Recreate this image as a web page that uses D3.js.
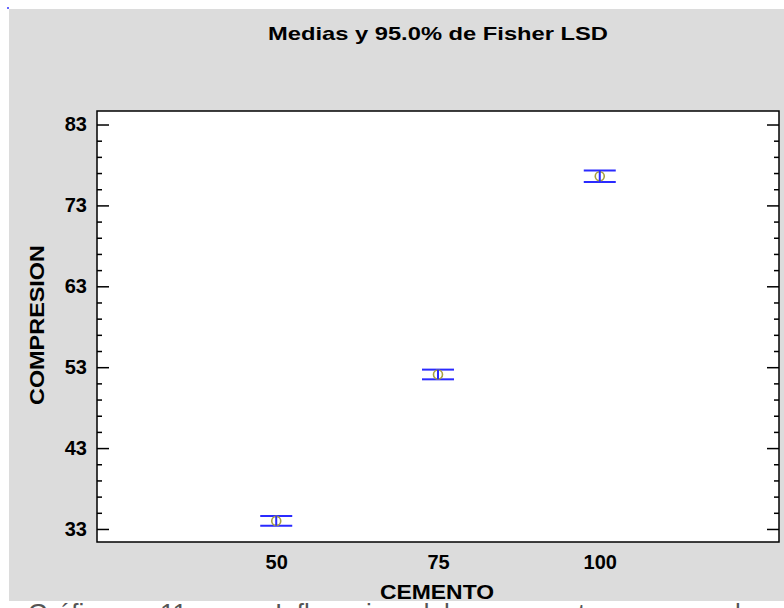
<!DOCTYPE html>
<html>
<head>
<meta charset="utf-8">
<script src="https://cdn.jsdelivr.net/npm/d3@7"></script>
<style>
  html, body { margin: 0; padding: 0; background: #ffffff; }
  svg { display: block; }
  text { font-family: "Liberation Sans", Arial, sans-serif; }
</style>
</head>
<body>
<svg id="chart" width="784" height="608"></svg>
<script>
// Means and 95% Fisher LSD intervals of COMPRESION by CEMENTO level
const cemento = [50, 75, 100];
const medias = [34.0, 52.1, 76.6];
const limInf = [33.4, 51.5, 75.9];
const limSup = [34.6, 52.7, 77.3];
const yTicks = [33, 43, 53, 63, 73, 83];
const xTickLabels = ["50", "75", "100"];

const svg = d3.select("#chart");
const W = 784, H = 608;
const plot = { left: 97, right: 779, top: 111, bottom: 542 };

// page background and grey chart panel
svg.append("rect").attr("width", W).attr("height", H).attr("fill", "#ffffff");
svg.append("rect").attr("x", 9).attr("y", 9).attr("width", W - 9).attr("height", 592)
  .attr("fill", "#dcdcdc");
svg.append("circle").attr("cx", 8).attr("cy", 8).attr("r", 1).attr("fill", "#3030ff");

const x = d3.scaleLinear().domain([22.3, 127.7]).range([plot.left, plot.right]);
const y = d3.scaleLinear().domain([31.39, 84.67]).range([plot.bottom, plot.top]);

// plot area
svg.append("rect")
  .attr("x", plot.left).attr("y", plot.top)
  .attr("width", plot.right - plot.left).attr("height", plot.bottom - plot.top)
  .attr("fill", "#ffffff");

const minorTicks = d3.range(35, 83, 2).filter(v => !yTicks.includes(v));

function styleAxis(g) {
  g.select(".domain").remove();
  g.selectAll(".tick line").attr("stroke", "#000").attr("stroke-width", 1.5);
}

// left axis: major ticks with labels, minor ticks
svg.append("g").attr("transform", `translate(${plot.left},0)`)
  .call(d3.axisLeft(y).tickValues(yTicks).tickSize(-12).tickPadding(10).tickFormat(d3.format("d")))
  .call(styleAxis)
  .call(g => g.selectAll(".tick text")
    .attr("fill", "#000").attr("font-size", 20).attr("font-weight", "bold")
    .attr("font-family", "'Liberation Sans', Arial, sans-serif"));
svg.append("g").attr("transform", `translate(${plot.left},0)`)
  .call(d3.axisLeft(y).tickValues(minorTicks).tickSize(-5).tickFormat(""))
  .call(styleAxis);

// right axis: ticks only
svg.append("g").attr("transform", `translate(${plot.right},0)`)
  .call(d3.axisRight(y).tickValues(yTicks).tickSize(-12).tickFormat(""))
  .call(styleAxis);
svg.append("g").attr("transform", `translate(${plot.right},0)`)
  .call(d3.axisRight(y).tickValues(minorTicks).tickSize(-5).tickFormat(""))
  .call(styleAxis);

// bottom axis: labels only
svg.append("g").attr("transform", `translate(0,${plot.bottom})`)
  .call(d3.axisBottom(x).tickValues(cemento).tickSize(0).tickPadding(13)
    .tickFormat((d, i) => xTickLabels[i]))
  .call(g => g.select(".domain").remove())
  .call(g => g.selectAll(".tick text")
    .attr("fill", "#000").attr("font-size", 20).attr("font-weight", "bold")
    .attr("font-family", "'Liberation Sans', Arial, sans-serif"));

// plot frame
svg.append("rect")
  .attr("x", plot.left).attr("y", plot.top)
  .attr("width", plot.right - plot.left).attr("height", plot.bottom - plot.top)
  .attr("fill", "none").attr("stroke", "#000").attr("stroke-width", 1.5);

// LSD intervals
const blue = "#2a2aff";
const half = 16;
const groups = svg.append("g").selectAll("g").data(cemento).join("g");
groups.append("line")
  .attr("x1", d => x(d) - half).attr("x2", d => x(d) + half)
  .attr("y1", (d, i) => y(limSup[i])).attr("y2", (d, i) => y(limSup[i]))
  .attr("stroke", blue).attr("stroke-width", 2);
groups.append("line")
  .attr("x1", d => x(d) - half).attr("x2", d => x(d) + half)
  .attr("y1", (d, i) => y(limInf[i])).attr("y2", (d, i) => y(limInf[i]))
  .attr("stroke", blue).attr("stroke-width", 2);
groups.append("circle")
  .attr("cx", d => x(d)).attr("cy", (d, i) => y(medias[i])).attr("r", 4.5)
  .attr("fill", "none").attr("stroke", "#a8a040").attr("stroke-width", 1.6);
groups.append("line")
  .attr("x1", d => x(d)).attr("x2", d => x(d))
  .attr("y1", (d, i) => y(limSup[i])).attr("y2", (d, i) => y(limInf[i]))
  .attr("stroke", blue).attr("stroke-width", 2);

// titles
svg.append("text").attr("x", 438).attr("y", 40).attr("text-anchor", "middle")
  .attr("font-size", 19).attr("font-weight", "bold").attr("fill", "#000")
  .attr("textLength", 340).attr("lengthAdjust", "spacingAndGlyphs")
  .text("Medias y 95.0% de Fisher LSD");

svg.append("text").attr("x", 437).attr("y", 599).attr("text-anchor", "middle")
  .attr("font-size", 21).attr("font-weight", "bold").attr("fill", "#000")
  .attr("textLength", 114).attr("lengthAdjust", "spacingAndGlyphs")
  .text("CEMENTO");

svg.append("text").attr("transform", "translate(44,325) rotate(-90)")
  .attr("text-anchor", "middle")
  .attr("font-size", 20).attr("font-weight", "bold").attr("fill", "#000")
  .attr("textLength", 160).attr("lengthAdjust", "spacingAndGlyphs")
  .text("COMPRESION");

// caption line of the surrounding document, cut by the page edge
const caption = [
  ["Gráfico", 28], ["11.", 160], ["–", 232], ["Influencia", 275],
  ["del", 415], ["cemento", 500], ["en", 640], ["la", 735]
];
svg.append("g").selectAll("text").data(caption).join("text")
  .attr("x", d => d[1]).attr("y", 622)
  .attr("font-size", 26).attr("fill", "#555")
  .text(d => d[0]);
</script>
</body>
</html>
